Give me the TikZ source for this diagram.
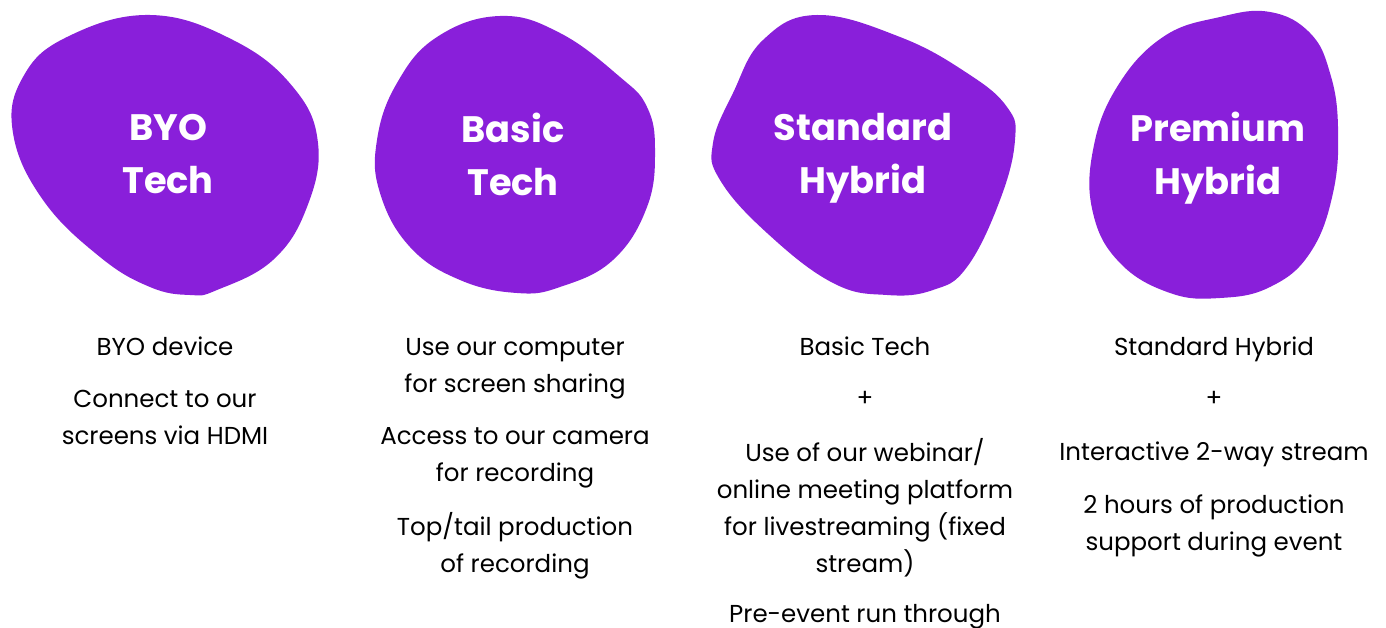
\documentclass[tikz,border=0pt]{standalone}
\usepackage{fontspec}
\setmainfont{Poppins}
\definecolor{blobpurple}{RGB}{137,31,218}
\begin{document}
\begin{tikzpicture}[x=1pt,y=-1pt,
  blob/.style={fill=blobpurple,draw=none},
  head/.style={text=white,font=\fontsize{36.8}{53}\selectfont\bfseries,align=center,inner sep=0pt},
  body/.style={text=black,font=\fontsize{24.5}{37}\selectfont,align=center,inner sep=0pt}]
\useasboundingbox (0,0) rectangle (1386,628);
% blobs
\fill[blob] plot[smooth cycle,tension=0.7] coordinates {(150,15) (233,40) (293,87) (318,143) (307,207) (273,260) (217,290) (190,295) (150,287) (100,257) (43,200) (13,133) (23,77) (67,37)};
\fill[blob] plot[smooth cycle,tension=0.7] coordinates {(500,16) (560,33) (620,77) (647,107) (655,150) (647,207) (613,260) (560,287) (517,293) (460,280) (410,247) (380,193) (377,140) (397,83) (437,37)};
\fill[blob] plot[smooth cycle,tension=0.7] coordinates {(817,15) (900,37) (967,73) (1007,107) (1015,140) (1000,200) (967,267) (933,290) (887,295) (833,283) (767,233) (720,180) (713,143) (733,93) (763,40)};
\fill[blob] plot[smooth cycle,tension=0.7] coordinates {(1270,12) (1310,33) (1330,73) (1338,127) (1333,193) (1310,253) (1270,287) (1220,298) (1170,293) (1120,263) (1093,213) (1093,150) (1117,87) (1163,37) (1220,17)};
% headings
\node[head] (h1) at (168,154) {BYO\\Tech};
\node[head] (h2) at (513,154) {Basic\\Tech};
\node[head] (h3) at (863,158) {Standard\\Hybrid};
\node[head] (h4) at (1218,158) {Premium\\Hybrid};
% column 1
\node[body] (a1) at (165,346) {BYO device};
\node[body] (a2) at (165,417.5) {Connect to our\\screens via HDMI};
% column 2
\node[body] (b1) at (515,368.5) {Use our computer\\for screen sharing};
\node[body] (b2) at (515,457.5) {Access to our camera\\for recording};
\node[body] (b3) at (515,545.5) {Top/tail production\\of recording};
% column 3
\node[body] (c1) at (865,346) {Basic Tech};
\node[body] (c2) at (865,399) {+};
\node[body] (c3) at (865,507.5) {Use of our webinar/\\online meeting platform\\for livestreaming (fixed\\stream)};
\node[body] (c4) at (865,617) {Pre-event run through};
% column 4
\node[body] (d1) at (1214,349) {Standard Hybrid};
\node[body] (d2) at (1214,399) {+};
\node[body] (d3) at (1214,454) {Interactive 2-way stream};
\node[body] (d4) at (1214,525.5) {2 hours of production\\support during event};
\end{tikzpicture}
\end{document}
